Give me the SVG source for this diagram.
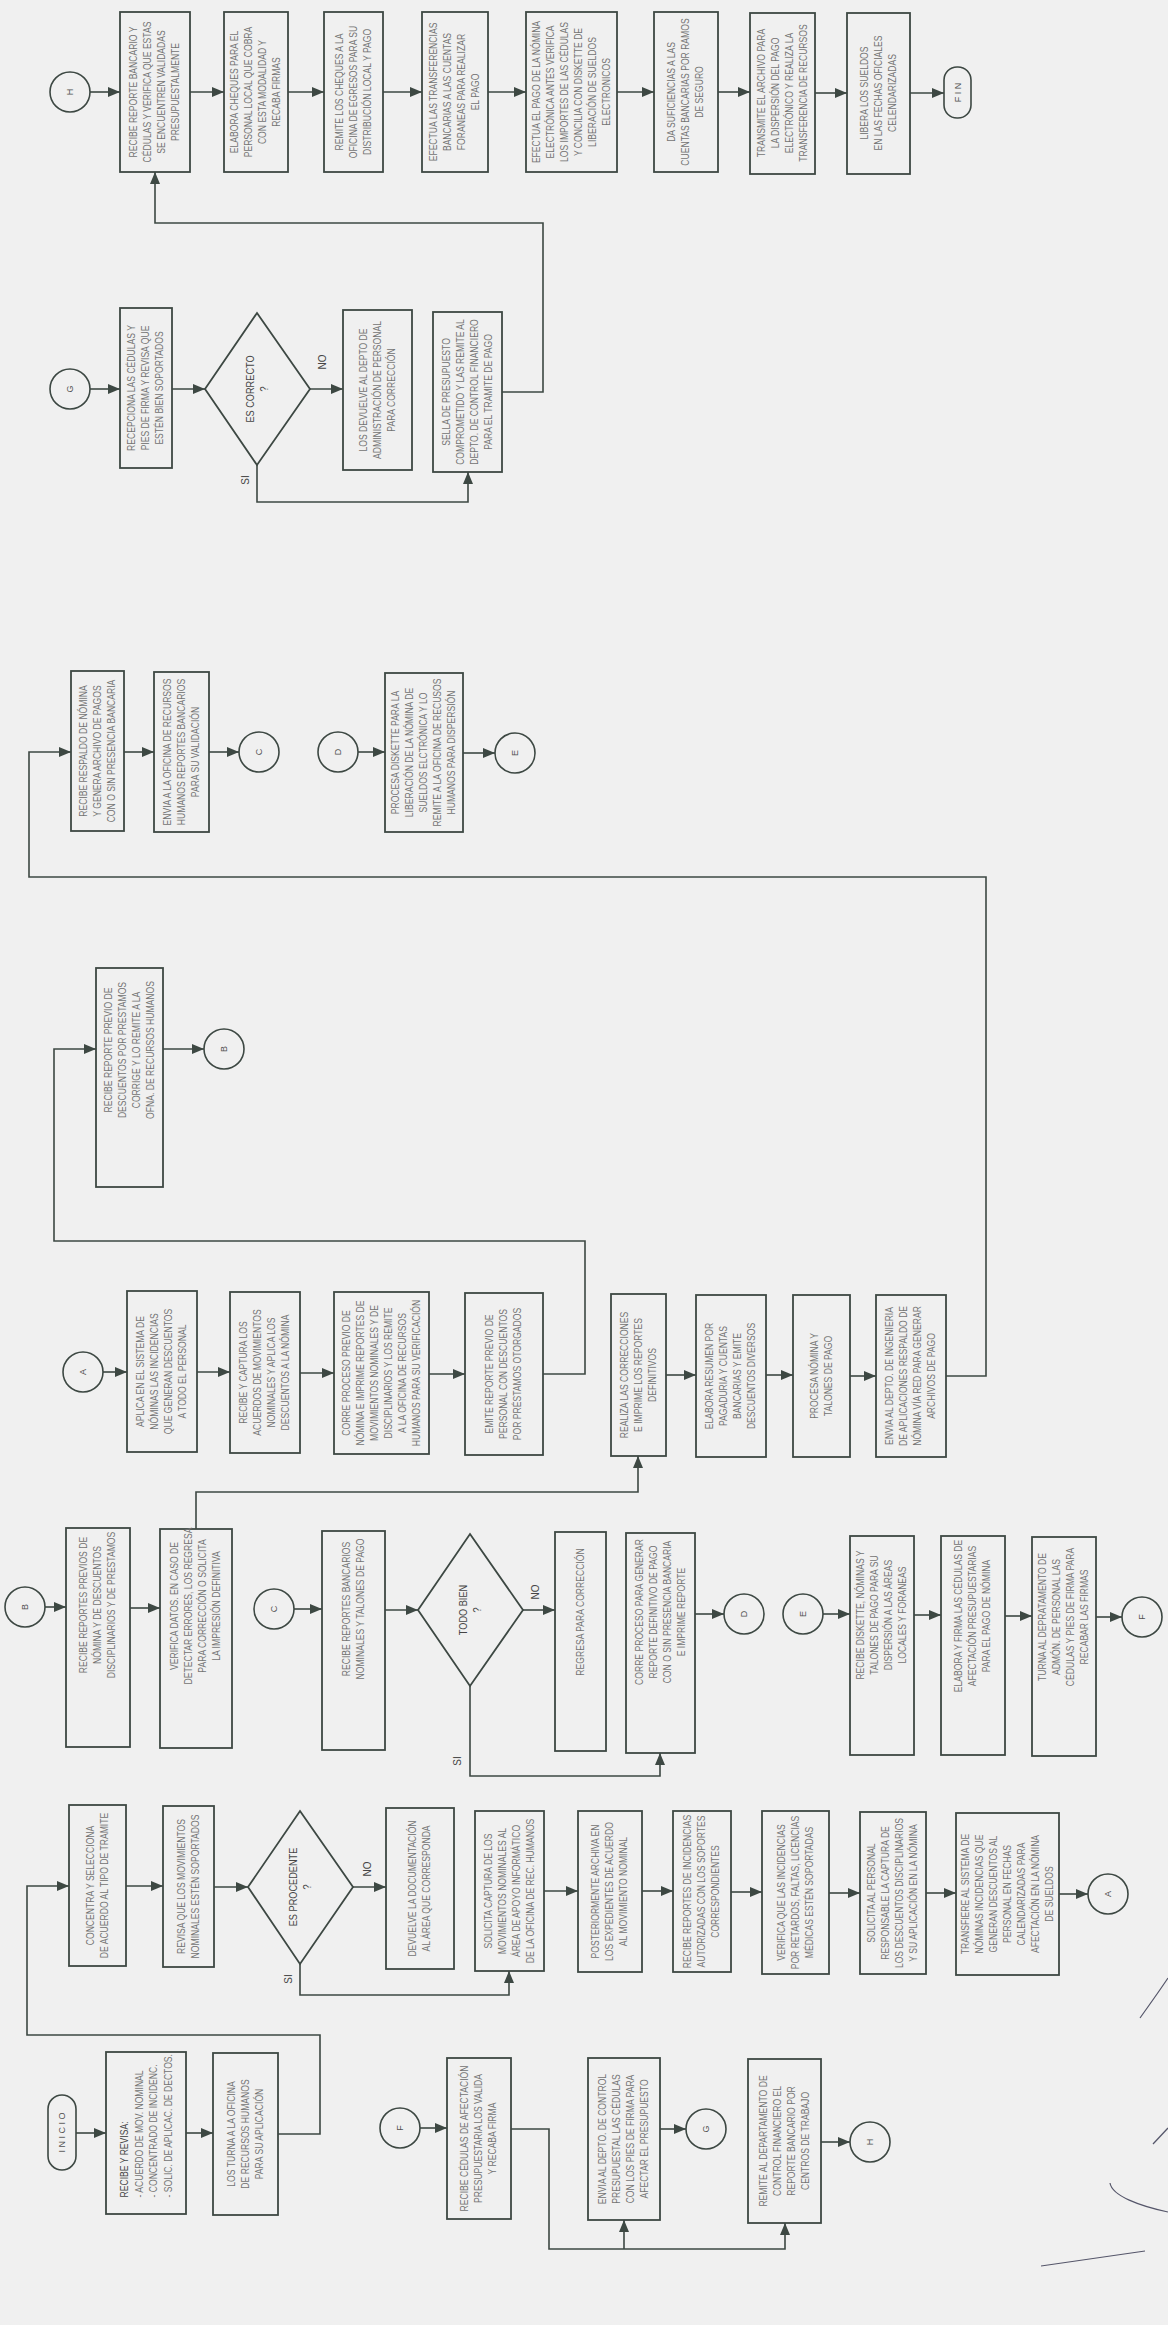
<svg xmlns="http://www.w3.org/2000/svg" width="1168" height="2325" viewBox="0 0 1168 2325">
<defs>
<marker id="ah" markerWidth="12" markerHeight="10" refX="12" refY="5" orient="auto" markerUnits="userSpaceOnUse"><path d="M0,0 L12,5 L0,10 z" fill="#3d4843"/></marker>
<style>
.b{fill:#f0f0f0;stroke:#3d4843;stroke-width:1.8}
.c{fill:#f0f0f0;stroke:#3d4843;stroke-width:1.6}
.ln{fill:none;stroke:#3d4843;stroke-width:1.6}
.ar{fill:none;stroke:#3d4843;stroke-width:1.6;marker-end:url(#ah)}
.t{font-family:"Liberation Sans",Arial,sans-serif;font-size:10px;fill:#737373;text-anchor:middle;dominant-baseline:central}
.d{font-family:"Liberation Sans",Arial,sans-serif;font-size:10px;fill:#454545;text-anchor:middle;dominant-baseline:central}
.l{font-family:"Liberation Sans",Arial,sans-serif;font-size:9px;fill:#505050;text-anchor:middle;dominant-baseline:central}
.sig{fill:none;stroke:#55566a;stroke-width:1.2}
</style>
</defs>
<rect x="0" y="0" width="1168" height="2325" fill="#f0f0f0"/>

<!-- connectors -->
<g id="connectors">
<!-- row H -->
<line class="ar" x1="90" y1="92" x2="120" y2="92"/>
<line class="ar" x1="190" y1="92" x2="224" y2="92"/>
<line class="ar" x1="288" y1="92" x2="324" y2="92"/>
<line class="ar" x1="383" y1="92" x2="422" y2="92"/>
<line class="ar" x1="488" y1="92" x2="526" y2="92"/>
<line class="ar" x1="617" y1="92" x2="654" y2="92"/>
<line class="ar" x1="718" y1="92" x2="750" y2="92"/>
<line class="ar" x1="815" y1="93" x2="847" y2="93"/>
<line class="ar" x1="910" y1="93" x2="944" y2="93"/>
<!-- row G -->
<line class="ar" x1="90" y1="389" x2="120" y2="389"/>
<line class="ar" x1="172" y1="389" x2="205" y2="389"/>
<line class="ar" x1="310" y1="389" x2="343" y2="389"/>
<path class="ar" d="M257,465 V502 H468 V472"/>
<path class="ar" d="M502,392 H543 V223 H155 V172"/>
<!-- row C/D -->
<path class="ar" d="M946,1376 H986 V877 H29 V752 H71"/>
<line class="ar" x1="124" y1="752" x2="154" y2="752"/>
<line class="ar" x1="209" y1="752" x2="239" y2="752"/>
<line class="ar" x1="358" y1="752" x2="385" y2="752"/>
<line class="ar" x1="463" y1="753" x2="495" y2="753"/>
<!-- prestamos -->
<path class="ar" d="M543,1374 H585 V1241 H54 V1049 H96"/>
<line class="ar" x1="163" y1="1049" x2="204" y2="1049"/>
<!-- row A -->
<line class="ar" x1="103" y1="1372" x2="127" y2="1372"/>
<line class="ar" x1="197" y1="1372" x2="230" y2="1372"/>
<line class="ar" x1="300" y1="1373" x2="334" y2="1373"/>
<line class="ar" x1="429" y1="1374" x2="465" y2="1374"/>
<line class="ar" x1="666" y1="1375" x2="696" y2="1375"/>
<line class="ar" x1="766" y1="1375" x2="793" y2="1375"/>
<line class="ar" x1="850" y1="1376" x2="876" y2="1376"/>
<!-- row B/C/E -->
<line class="ar" x1="45" y1="1607" x2="66" y2="1607"/>
<line class="ar" x1="130" y1="1608" x2="160" y2="1608"/>
<path class="ar" d="M196,1529 V1492 H638 V1456"/>
<line class="ar" x1="294" y1="1609" x2="322" y2="1609"/>
<line class="ar" x1="385" y1="1610" x2="418" y2="1610"/>
<line class="ar" x1="523" y1="1610" x2="555" y2="1610"/>
<path class="ar" d="M470,1686 V1776 H660 V1753"/>
<line class="ar" x1="695" y1="1614" x2="724" y2="1614"/>
<line class="ar" x1="823" y1="1614" x2="850" y2="1614"/>
<line class="ar" x1="914" y1="1615" x2="941" y2="1615"/>
<line class="ar" x1="1005" y1="1616" x2="1032" y2="1616"/>
<line class="ar" x1="1096" y1="1617" x2="1122" y2="1617"/>
<!-- row INICIO upper -->
<path class="ar" d="M278,2134 H320 V2035 H27 V1886 H69"/>
<line class="ar" x1="126" y1="1886" x2="163" y2="1886"/>
<line class="ar" x1="214" y1="1887" x2="248" y2="1887"/>
<line class="ar" x1="353" y1="1887" x2="386" y2="1887"/>
<path class="ar" d="M300,1964 V1995 H509 V1971"/>
<line class="ar" x1="544" y1="1891" x2="578" y2="1891"/>
<line class="ar" x1="642" y1="1891" x2="673" y2="1891"/>
<line class="ar" x1="731" y1="1892" x2="762" y2="1892"/>
<line class="ar" x1="829" y1="1893" x2="860" y2="1893"/>
<line class="ar" x1="926" y1="1893" x2="956" y2="1893"/>
<line class="ar" x1="1059" y1="1894" x2="1088" y2="1894"/>
<!-- row INICIO -->
<line class="ar" x1="76" y1="2133" x2="106" y2="2133"/>
<line class="ar" x1="186" y1="2133" x2="213" y2="2133"/>
<!-- row F -->
<line class="ar" x1="420" y1="2128" x2="447" y2="2128"/>
<path class="ar" d="M511,2129 H549 V2249 H785 V2223"/>
<path class="ar" d="M624,2249 V2220"/>
<line class="ar" x1="660" y1="2129" x2="686" y2="2129"/>
<line class="ar" x1="821" y1="2142" x2="850" y2="2142"/>
</g>

<!-- decision labels -->
<g id="labels">
<text class="d" transform="translate(322,362) rotate(-90)">NO</text>
<text class="d" transform="translate(245,480) rotate(-90)">SI</text>
<text class="d" transform="translate(535,1592) rotate(-90)">NO</text>
<text class="d" transform="translate(457,1761) rotate(-90)">SI</text>
<text class="d" transform="translate(367,1869) rotate(-90)">NO</text>
<text class="d" transform="translate(288,1979) rotate(-90)">SI</text>
</g>

<!-- ROW H -->
<g id="cH1"><circle class="c" cx="70" cy="92" r="20"/><text class="l" transform="translate(70,92) rotate(-90)">H</text></g>
<g id="h1"><rect class="b" x="120" y="12" width="70" height="160"/><text class="t" transform="translate(155,92) rotate(-90) scale(0.86,1)"><tspan x="0" y="-21">RECIBE REPORTE BANCARIO Y</tspan><tspan x="0" y="-7">CÉDULAS Y VERIFICA QUE ESTAS</tspan><tspan x="0" y="7">SE ENCUENTREN VALIDADAS</tspan><tspan x="0" y="21">PRESUPUESTALMENTE</tspan></text></g>
<g id="h2"><rect class="b" x="224" y="12" width="64" height="160"/><text class="t" transform="translate(256,92) rotate(-90) scale(0.86,1)"><tspan x="0" y="-21">ELABORA CHEQUES PARA EL</tspan><tspan x="0" y="-7">PERSONAL LOCAL QUE COBRA</tspan><tspan x="0" y="7">CON ESTA MODALIDAD Y</tspan><tspan x="0" y="21">RECABA FIRMAS</tspan></text></g>
<g id="h3"><rect class="b" x="324" y="12" width="59" height="160"/><text class="t" transform="translate(353.5,92) rotate(-90) scale(0.86,1)"><tspan x="0" y="-14">REMITE LOS CHEQUES A LA</tspan><tspan x="0" y="0">OFICINA DE EGRESOS PARA SU</tspan><tspan x="0" y="14">DISTRIBUCIÓN LOCAL Y PAGO</tspan></text></g>
<g id="h4"><rect class="b" x="422" y="12" width="66" height="160"/><text class="t" transform="translate(455,92) rotate(-90) scale(0.86,1)"><tspan x="0" y="-21">EFECTUA LAS TRANSFERENCIAS</tspan><tspan x="0" y="-7">BANCARIAS A LAS CUENTAS</tspan><tspan x="0" y="7">FORANEAS PARA REALIZAR</tspan><tspan x="0" y="21">EL PAGO</tspan></text></g>
<g id="h5"><rect class="b" x="526" y="12" width="91" height="160"/><text class="t" transform="translate(571.5,92) rotate(-90) scale(0.86,1)"><tspan x="0" y="-35">EFECTUA EL PAGO DE LA NÓMINA</tspan><tspan x="0" y="-21">ELECTRÓNICA  ANTES VERIFICA</tspan><tspan x="0" y="-7">LOS IMPORTES DE LAS CÉDULAS</tspan><tspan x="0" y="7">Y CONCILIA CON DISKETTE DE</tspan><tspan x="0" y="21">LIBERACIÓN DE SUELDOS</tspan><tspan x="0" y="35">ELECTRONICOS</tspan></text></g>
<g id="h6"><rect class="b" x="654" y="12" width="64" height="160"/><text class="t" transform="translate(686,92) rotate(-90) scale(0.86,1)"><tspan x="0" y="-14">DA SUFICIENCIAS A LAS</tspan><tspan x="0" y="0">CUENTAS BANCARIAS POR RAMOS</tspan><tspan x="0" y="14">DE SEGURO</tspan></text></g>
<g id="h7"><rect class="b" x="750" y="13" width="65" height="161"/><text class="t" transform="translate(782.5,93) rotate(-90) scale(0.86,1)"><tspan x="0" y="-21">TRANSMITE EL ARCHIVO PARA</tspan><tspan x="0" y="-7">LA DISPERSIÓN DEL PAGO</tspan><tspan x="0" y="7">ELECTRÓNICO Y REALIZA LA</tspan><tspan x="0" y="21">TRANSFERENCIA DE RECURSOS</tspan></text></g>
<g id="h8"><rect class="b" x="847" y="13" width="63" height="161"/><text class="t" transform="translate(878.5,93) rotate(-90) scale(0.86,1)"><tspan x="0" y="-14">LIBERA LOS SUELDOS</tspan><tspan x="0" y="0">EN LAS FECHAS OFICIALES</tspan><tspan x="0" y="14">CELENDARIZADAS</tspan></text></g>
<g id="fin"><rect class="c" x="944" y="67" width="27" height="51" rx="13"/><text class="l" transform="translate(957.5,92.5) rotate(-90)">F I N</text></g>

<!-- ROW G -->
<g id="cG1"><circle class="c" cx="70" cy="389" r="20"/><text class="l" transform="translate(70,389) rotate(-90)">G</text></g>
<g id="g1"><rect class="b" x="120" y="308" width="52" height="160"/><text class="t" transform="translate(146,388) rotate(-90) scale(0.86,1)"><tspan x="0" y="-14">RECEPCIONA LAS CÉDULAS Y</tspan><tspan x="0" y="0">PIES DE FIRMA Y REVISA QUE</tspan><tspan x="0" y="14">ESTÉN BIEN SOPORTADOS</tspan></text></g>
<g id="g2"><polygon class="b" points="257,313 310,389 257,465 205,389"/><text class="d" transform="translate(257,389) rotate(-90) scale(0.92,1)"><tspan x="0" y="-7">ES CORRECTO</tspan><tspan x="0" y="7">?</tspan></text></g>
<g id="g3"><rect class="b" x="343" y="310" width="69" height="160"/><text class="t" transform="translate(377.5,390) rotate(-90) scale(0.86,1)"><tspan x="0" y="-14">LOS DEVUELVE AL DEPTO DE</tspan><tspan x="0" y="0">ADMINISTRACIÓN DE PERSONAL</tspan><tspan x="0" y="14">PARA CORRECCIÓN</tspan></text></g>
<g id="g4"><rect class="b" x="433" y="312" width="69" height="160"/><text class="t" transform="translate(467.5,392) rotate(-90) scale(0.86,1)"><tspan x="0" y="-21">SELLA DE PRESUPUESTO</tspan><tspan x="0" y="-7">COMPROMETIDO Y LAS REMITE AL</tspan><tspan x="0" y="7">DEPTO. DE CONTROL FINANCIERO</tspan><tspan x="0" y="21">PARA EL TRAMITE DE PAGO</tspan></text></g>

<!-- ROW C/D -->
<g id="cd1"><rect class="b" x="71" y="671" width="53" height="160"/><text class="t" transform="translate(97.5,751) rotate(-90) scale(0.86,1)"><tspan x="0" y="-14">RECIBE RESPALDO DE NÓMINA</tspan><tspan x="0" y="0">Y GENERA ARCHIVO DE PAGOS</tspan><tspan x="0" y="14">CON O SIN PRESENCIA BANCARIA</tspan></text></g>
<g id="cd2"><rect class="b" x="154" y="672" width="55" height="160"/><text class="t" transform="translate(181.5,752) rotate(-90) scale(0.86,1)"><tspan x="0" y="-14">ENVIA A LA OFICINA DE RECURSOS</tspan><tspan x="0" y="0">HUMANOS REPORTES BANCARIOS</tspan><tspan x="0" y="14">PARA SU VALIDACIÓN</tspan></text></g>
<g id="cC1"><circle class="c" cx="259" cy="752" r="20"/><text class="l" transform="translate(259,752) rotate(-90)">C</text></g>
<g id="cD1"><circle class="c" cx="338" cy="752" r="20"/><text class="l" transform="translate(338,752) rotate(-90)">D</text></g>
<g id="cd3"><rect class="b" x="385" y="673" width="78" height="159"/><text class="t" transform="translate(424,752.5) rotate(-90) scale(0.86,1)"><tspan x="0" y="-28">PROCESA DISKETTE PARA LA</tspan><tspan x="0" y="-14">LIBERACIÓN DE LA NÓMINA DE</tspan><tspan x="0" y="0">SUELDOS ELCTRÓNICA Y LO</tspan><tspan x="0" y="14">REMITE A LA OFICINA DE RECUSOS</tspan><tspan x="0" y="28">HUMANOS PARA DISPERSIÓN</tspan></text></g>
<g id="cE1"><circle class="c" cx="515" cy="753" r="20"/><text class="l" transform="translate(515,753) rotate(-90)">E</text></g>

<!-- PRESTAMOS -->
<g id="p1"><rect class="b" x="96" y="968" width="67" height="219"/><text class="t" transform="translate(129.5,1050) rotate(-90) scale(0.86,1)"><tspan x="0" y="-21">RECIBE REPORTE PREVIO DE</tspan><tspan x="0" y="-7">DESCUENTOS POR PRESTAMOS</tspan><tspan x="0" y="7">CORRIGE Y LO REMITE A LA</tspan><tspan x="0" y="21">OFNA. DE RECURSOS HUMANOS</tspan></text></g>
<g id="cB1"><circle class="c" cx="224" cy="1049" r="20"/><text class="l" transform="translate(224,1049) rotate(-90)">B</text></g>

<!-- ROW A -->
<g id="cA2"><circle class="c" cx="83" cy="1372" r="20"/><text class="l" transform="translate(83,1372) rotate(-90)">A</text></g>
<g id="a1"><rect class="b" x="127" y="1291" width="70" height="161"/><text class="t" transform="translate(162,1371.5) rotate(-90) scale(0.86,1)"><tspan x="0" y="-21">APLICA EN EL SISTEMA DE</tspan><tspan x="0" y="-7">NÓMINAS LAS INCIDENCIAS</tspan><tspan x="0" y="7">QUE GENERAN DESCUENTOS</tspan><tspan x="0" y="21">A TODO EL PERSONAL</tspan></text></g>
<g id="a2"><rect class="b" x="230" y="1292" width="70" height="161"/><text class="t" transform="translate(265,1372.5) rotate(-90) scale(0.86,1)"><tspan x="0" y="-21">RECIBE Y CAPTURA LOS</tspan><tspan x="0" y="-7">ACUERDOS DE MOVIMIENTOS</tspan><tspan x="0" y="7">NOMINALES Y APLICA LOS</tspan><tspan x="0" y="21">DESCUENTOS A LA NÓMINA</tspan></text></g>
<g id="a3"><rect class="b" x="334" y="1292" width="95" height="162"/><text class="t" transform="translate(381.5,1373) rotate(-90) scale(0.86,1)"><tspan x="0" y="-35">CORRE PROCESO PREVIO DE</tspan><tspan x="0" y="-21">NÓMINA  E IMPRIME REPORTES DE</tspan><tspan x="0" y="-7">MOVIMIENTOS NOMINALES Y DE</tspan><tspan x="0" y="7">DISCIPLINARIOS Y LOS REMITE</tspan><tspan x="0" y="21">A LA OFICINA DE RECURSOS</tspan><tspan x="0" y="35">HUMANOS PARA SU VERIFICACIÓN</tspan></text></g>
<g id="a4"><rect class="b" x="465" y="1293" width="78" height="162"/><text class="t" transform="translate(504,1374) rotate(-90) scale(0.86,1)"><tspan x="0" y="-14">EMITE REPORTE PREVIO DE</tspan><tspan x="0" y="0">PERSONAL CON DESCUENTOS</tspan><tspan x="0" y="14">POR PRÉSTAMOS OTORGADOS</tspan></text></g>
<g id="a5"><rect class="b" x="611" y="1294" width="55" height="162"/><text class="t" transform="translate(638.5,1375) rotate(-90) scale(0.86,1)"><tspan x="0" y="-14">REALIZA LAS CORRECCIONES</tspan><tspan x="0" y="0">E IMPRIME LOS REPORTES</tspan><tspan x="0" y="14">DEFINITIVOS</tspan></text></g>
<g id="a6"><rect class="b" x="696" y="1295" width="70" height="162"/><text class="t" transform="translate(731,1376) rotate(-90) scale(0.86,1)"><tspan x="0" y="-21">ELABORA RESUMEN POR</tspan><tspan x="0" y="-7">PAGADURIA Y CUENTAS</tspan><tspan x="0" y="7">BANCARIAS Y EMITE</tspan><tspan x="0" y="21">DESCUENTOS DIVERSOS</tspan></text></g>
<g id="a7"><rect class="b" x="793" y="1295" width="57" height="162"/><text class="t" transform="translate(821.5,1376) rotate(-90) scale(0.86,1)"><tspan x="0" y="-7">PROCESA NÓMINA Y</tspan><tspan x="0" y="7">TALONES DE PAGO</tspan></text></g>
<g id="a8"><rect class="b" x="876" y="1295" width="70" height="162"/><text class="t" transform="translate(911,1376) rotate(-90) scale(0.86,1)"><tspan x="0" y="-21">ENVIA AL DEPTO. DE INGENIERIA</tspan><tspan x="0" y="-7">DE APLICACIONES RESPALDO DE</tspan><tspan x="0" y="7">NÓMINA VÍA RED PARA GENERAR</tspan><tspan x="0" y="21">ARCHIVOS DE PAGO</tspan></text></g>

<!-- ROW B/C/E -->
<g id="cB2"><circle class="c" cx="25" cy="1607" r="20"/><text class="l" transform="translate(25,1607) rotate(-90)">B</text></g>
<g id="b1"><rect class="b" x="66" y="1528" width="64" height="219"/><text class="t" transform="translate(98,1605) rotate(-90) scale(0.86,1)"><tspan x="0" y="-14">RECIBE REPORTES PREVIOS DE</tspan><tspan x="0" y="0">NÓMINA Y DE DESCUENTOS</tspan><tspan x="0" y="14">DISCIPLINARIOS Y DE PRESTAMOS</tspan></text></g>
<g id="b2"><rect class="b" x="160" y="1529" width="72" height="219"/><text class="t" transform="translate(196,1606) rotate(-90) scale(0.86,1)"><tspan x="0" y="-21">VERIFICA DATOS. EN CASO DE</tspan><tspan x="0" y="-7">DETECTAR ERRORES, LOS REGRESA</tspan><tspan x="0" y="7">PARA CORRECCIÓN O SOLICITA</tspan><tspan x="0" y="21">LA IMPRESIÓN DEFINITIVA</tspan></text></g>
<g id="cC2"><circle class="c" cx="274" cy="1609" r="20"/><text class="l" transform="translate(274,1609) rotate(-90)">C</text></g>
<g id="b3"><rect class="b" x="322" y="1531" width="63" height="219"/><text class="t" transform="translate(353.5,1609) rotate(-90) scale(0.86,1)"><tspan x="0" y="-7">RECIBE REPORTES BANCARIOS</tspan><tspan x="0" y="7">NOMINALES Y TALONES DE PAGO</tspan></text></g>
<g id="b4"><polygon class="b" points="470,1534 523,1610 470,1686 418,1610"/><text class="d" transform="translate(470,1610) rotate(-90) scale(0.92,1)"><tspan x="0" y="-7">TODO BIEN</tspan><tspan x="0" y="7">?</tspan></text></g>
<g id="b5"><rect class="b" x="555" y="1532" width="51" height="219"/><text class="t" transform="translate(580.5,1612) rotate(-90) scale(0.86,1)"><tspan x="0" y="0">REGRESA PARA CORRECCIÓN</tspan></text></g>
<g id="b6"><rect class="b" x="626" y="1533" width="69" height="220"/><text class="t" transform="translate(660.5,1612) rotate(-90) scale(0.86,1)"><tspan x="0" y="-21">CORRE PROCESO PARA GENERAR</tspan><tspan x="0" y="-7">REPORTE DEFINITIVO DE PAGO</tspan><tspan x="0" y="7">CON O SIN PRESENCIA BANCARIA</tspan><tspan x="0" y="21">E IMPRIME REPORTE</tspan></text></g>
<g id="cD2"><circle class="c" cx="744" cy="1614" r="20"/><text class="l" transform="translate(744,1614) rotate(-90)">D</text></g>
<g id="cE2"><circle class="c" cx="803" cy="1614" r="20"/><text class="l" transform="translate(803,1614) rotate(-90)">E</text></g>
<g id="e1"><rect class="b" x="850" y="1536" width="64" height="219"/><text class="t" transform="translate(882,1615) rotate(-90) scale(0.86,1)"><tspan x="0" y="-21">RECIBE DISKETTE, NÓMINAS Y</tspan><tspan x="0" y="-7">TALONES DE PAGO PARA SU</tspan><tspan x="0" y="7">DISPERSIÓN A LAS ÁREAS</tspan><tspan x="0" y="21">LOCALES Y FORANEAS</tspan></text></g>
<g id="e2"><rect class="b" x="941" y="1536" width="64" height="219"/><text class="t" transform="translate(973,1616) rotate(-90) scale(0.86,1)"><tspan x="0" y="-14">ELABORA Y FIRMA LAS CÉDULAS DE</tspan><tspan x="0" y="0">AFECTACIÓN PRESUPUESTARIAS</tspan><tspan x="0" y="14">PARA EL PAGO DE NÓMINA</tspan></text></g>
<g id="e3"><rect class="b" x="1032" y="1537" width="64" height="219"/><text class="t" transform="translate(1064,1617) rotate(-90) scale(0.86,1)"><tspan x="0" y="-21">TURNA AL DEPRATAMENTO DE</tspan><tspan x="0" y="-7">ADMÓN. DE PERSONAL LAS</tspan><tspan x="0" y="7">CÉDULAS Y PIES DE FIRMA PARA</tspan><tspan x="0" y="21">RECABAR LAS FIRMAS</tspan></text></g>
<g id="cF1"><circle class="c" cx="1142" cy="1617" r="20"/><text class="l" transform="translate(1142,1617) rotate(-90)">F</text></g>

<!-- ROW INICIO upper -->
<g id="i1"><rect class="b" x="69" y="1805" width="57" height="161"/><text class="t" transform="translate(97.5,1885.5) rotate(-90) scale(0.86,1)"><tspan x="0" y="-7">CONCENTRA Y SELECCIONA</tspan><tspan x="0" y="7">DE ACUERDO AL TIPO DE TRAMITE</tspan></text></g>
<g id="i2"><rect class="b" x="163" y="1806" width="51" height="161"/><text class="t" transform="translate(188.5,1886.5) rotate(-90) scale(0.86,1)"><tspan x="0" y="-7">REVISA QUE LOS MOVIMIENTOS</tspan><tspan x="0" y="7">NOMINALES ESTÉN SOPORTADOS</tspan></text></g>
<g id="i3"><polygon class="b" points="300,1811 353,1887 300,1964 248,1887"/><text class="d" transform="translate(300,1887) rotate(-90) scale(0.92,1)"><tspan x="0" y="-7">ES PROCEDENTE</tspan><tspan x="0" y="7">?</tspan></text></g>
<g id="i4"><rect class="b" x="386" y="1808" width="68" height="161"/><text class="t" transform="translate(420,1888.5) rotate(-90) scale(0.86,1)"><tspan x="0" y="-7">DEVUELVE LA DOCUMENTACIÓN</tspan><tspan x="0" y="7">AL ÁREA QUE CORRESPONDA</tspan></text></g>
<g id="i5"><rect class="b" x="475" y="1811" width="69" height="160"/><text class="t" transform="translate(509.5,1891) rotate(-90) scale(0.86,1)"><tspan x="0" y="-21">SOLICITA CAPTURA DE LOS</tspan><tspan x="0" y="-7">MOVIMIENTOS NOMINALES AL</tspan><tspan x="0" y="7">ÁREA DE APOYO INFORMÁTICO</tspan><tspan x="0" y="21">DE LA OFICINA DE REC. HUMANOS</tspan></text></g>
<g id="i6"><rect class="b" x="578" y="1811" width="64" height="161"/><text class="t" transform="translate(610,1891.5) rotate(-90) scale(0.86,1)"><tspan x="0" y="-14">POSTERIORMENTE  ARCHIVA EN</tspan><tspan x="0" y="0">LOS EXPEDIENTES DE ACUERDO</tspan><tspan x="0" y="14">AL MOVIMIENTO NOMINAL</tspan></text></g>
<g id="i7"><rect class="b" x="673" y="1811" width="58" height="161"/><text class="t" transform="translate(702,1891.5) rotate(-90) scale(0.86,1)"><tspan x="0" y="-14">RECIBE REPORTES DE INCIDENCIAS</tspan><tspan x="0" y="0">AUTORIZADAS CON LOS SOPORTES</tspan><tspan x="0" y="14">CORRESPONDIENTES</tspan></text></g>
<g id="i8"><rect class="b" x="762" y="1811" width="67" height="163"/><text class="t" transform="translate(795.5,1892.5) rotate(-90) scale(0.86,1)"><tspan x="0" y="-14">VERIFICA QUE LAS INCIDENCIAS</tspan><tspan x="0" y="0">POR RETARDOS, FALTAS, LICENCIAS</tspan><tspan x="0" y="14">MÉDICAS  ESTÉN SOPORTADAS</tspan></text></g>
<g id="i9"><rect class="b" x="860" y="1812" width="66" height="162"/><text class="t" transform="translate(893,1893) rotate(-90) scale(0.86,1)"><tspan x="0" y="-21">SOLICITA AL PERSONAL</tspan><tspan x="0" y="-7">RESPONSABLE  LA CAPTURA DE</tspan><tspan x="0" y="7">LOS DESCUENTOS DISCIPLINARIOS</tspan><tspan x="0" y="21">Y SU APLICACIÓN EN LA NÓMINA</tspan></text></g>
<g id="i10"><rect class="b" x="956" y="1813" width="103" height="162"/><text class="t" transform="translate(1007.5,1894) rotate(-90) scale(0.86,1)"><tspan x="0" y="-42">TRANSFIERE AL SISTEMA DE</tspan><tspan x="0" y="-28">NÓMINAS INCIDENCIAS QUE</tspan><tspan x="0" y="-14">GENERAN DESCUENTOS AL</tspan><tspan x="0" y="0">PERSONAL  EN FECHAS</tspan><tspan x="0" y="14">CALENDARIZADAS PARA</tspan><tspan x="0" y="28">AFECTACIÓN EN LA NÓMINA</tspan><tspan x="0" y="42">DE SUELDOS</tspan></text></g>
<g id="cA1"><circle class="c" cx="1108" cy="1894" r="20"/><text class="l" transform="translate(1108,1894) rotate(-90)">A</text></g>

<!-- ROW INICIO -->
<g id="inicio"><rect class="c" x="48" y="2095" width="28" height="75" rx="14"/><text class="l" transform="translate(62,2132.5) rotate(-90)">I N I C I O</text></g>
<g id="r1"><rect class="b" x="106" y="2052" width="80" height="162"/><text class="t" transform="translate(147,2133) rotate(-90) scale(0.86,1)" style="text-anchor:start"><tspan x="-75" y="-22" fill="#454545">RECIBE Y REVISA:</tspan><tspan x="-75" y="-7">- ACUERDO DE MOV. NOMINAL</tspan><tspan x="-75" y="7">- CONCENTRADO DE INCIDENC.</tspan><tspan x="-75" y="22">- SOLIC. DE APLICAC. DE DECTOS.</tspan></text></g>
<g id="r2"><rect class="b" x="213" y="2053" width="65" height="162"/><text class="t" transform="translate(245.5,2134) rotate(-90) scale(0.86,1)"><tspan x="0" y="-14">LOS TURNA A LA OFICINA</tspan><tspan x="0" y="0">DE RECURSOS HUMANOS</tspan><tspan x="0" y="14">PARA SU APLICACIÓN</tspan></text></g>

<!-- ROW F -->
<g id="cF2"><circle class="c" cx="400" cy="2128" r="20"/><text class="l" transform="translate(400,2128) rotate(-90)">F</text></g>
<g id="f1"><rect class="b" x="447" y="2058" width="64" height="161"/><text class="t" transform="translate(479,2138.5) rotate(-90) scale(0.86,1)"><tspan x="0" y="-14">RECIBE CÉDULAS DE AFECTACIÓN</tspan><tspan x="0" y="0">PRESUPUESTARIA LOS VALIDA</tspan><tspan x="0" y="14">Y RECABA FIRMA</tspan></text></g>
<g id="f2"><rect class="b" x="588" y="2058" width="72" height="162"/><text class="t" transform="translate(624,2139) rotate(-90) scale(0.86,1)"><tspan x="0" y="-21">ENVIA AL DEPTO. DE CONTROL</tspan><tspan x="0" y="-7">PRESUPUESTAL LAS CÉDULAS</tspan><tspan x="0" y="7">CON LOS PIES DE FIRMA PARA</tspan><tspan x="0" y="21">AFECTAR EL PRESUPUESTO</tspan></text></g>
<g id="cG2"><circle class="c" cx="706" cy="2129" r="20"/><text class="l" transform="translate(706,2129) rotate(-90)">G</text></g>
<g id="f3"><rect class="b" x="748" y="2059" width="73" height="164"/><text class="t" transform="translate(784.5,2141) rotate(-90) scale(0.86,1)"><tspan x="0" y="-21">REMITE AL DEPARTAMENTO DE</tspan><tspan x="0" y="-7">CONTROL FINANCIERO EL</tspan><tspan x="0" y="7">REPORTE BANCARIO POR</tspan><tspan x="0" y="21">CENTROS DE TRABAJO</tspan></text></g>
<g id="cH2"><circle class="c" cx="870" cy="2142" r="20"/><text class="l" transform="translate(870,2142) rotate(-90)">H</text></g>

<!-- signature strokes -->
<g id="signature">
<path class="sig" d="M1140,2018 C1150,2004 1160,1990 1168,1978"/>
<path class="sig" d="M1153,2144 L1168,2128" stroke-width="2"/>
<path class="sig" d="M1110,2183 C1112,2196 1140,2206 1168,2212"/>
<path class="sig" d="M1041,2266 L1145,2251" stroke-width="1.8"/>
</g>
</svg>
